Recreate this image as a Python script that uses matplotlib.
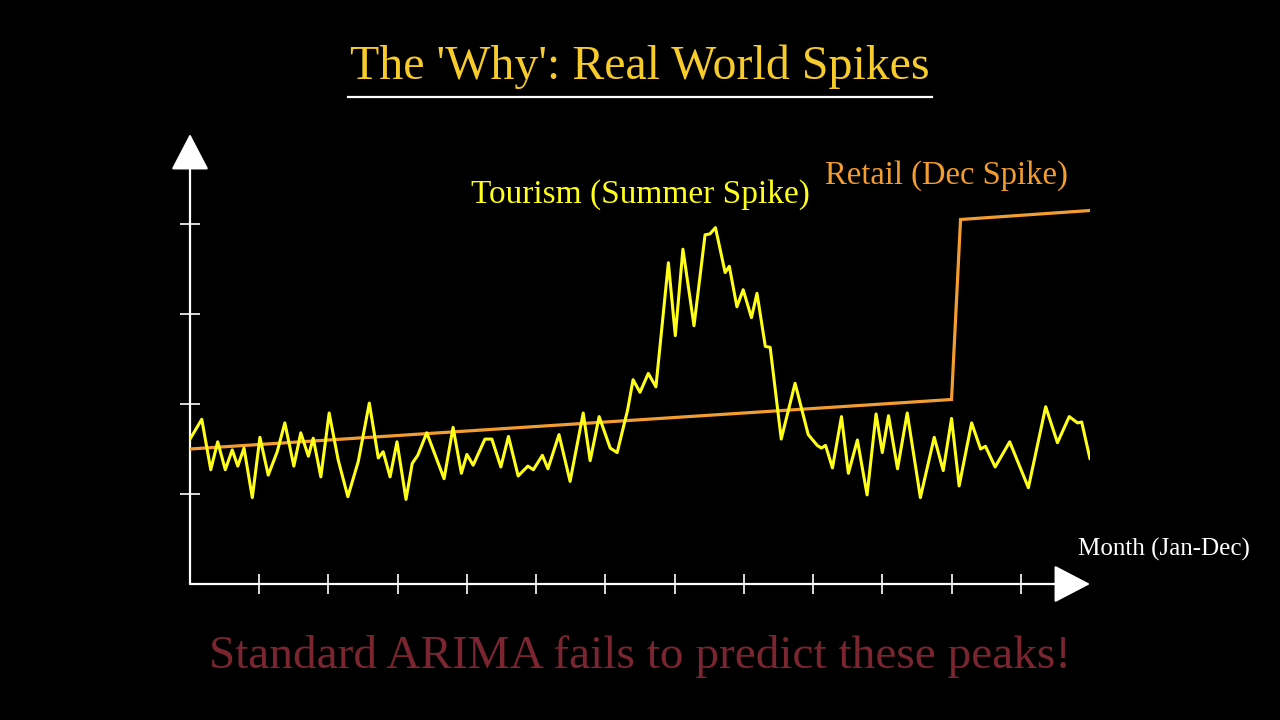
import matplotlib
matplotlib.use("Agg")
import matplotlib.pyplot as plt

# tourism (month position, level)
tour_x = [0.00, 0.17, 0.30, 0.40, 0.51, 0.61, 0.69, 0.78, 0.90, 1.01, 1.13, 1.26, 1.37, 1.50,
          1.60, 1.71, 1.78, 1.89, 2.01, 2.14, 2.28, 2.43, 2.59, 2.72, 2.79, 2.89, 2.99, 3.12,
          3.21, 3.29, 3.42, 3.67, 3.80, 3.92, 4.00, 4.09, 4.26, 4.36, 4.49, 4.60, 4.74, 4.88,
          4.96, 5.09, 5.17, 5.33, 5.49, 5.68, 5.78, 5.91, 6.07, 6.17, 6.32, 6.40, 6.50, 6.62,
          6.73, 6.91, 7.01, 7.12, 7.28, 7.44, 7.51, 7.59, 7.73, 7.79, 7.90, 7.99, 8.11, 8.19,
          8.31, 8.38, 8.54, 8.74, 8.93, 9.06, 9.12, 9.18, 9.28, 9.41, 9.51, 9.64, 9.78, 9.91,
          10.00, 10.09, 10.22, 10.36, 10.55, 10.75, 10.88, 11.00, 11.11, 11.29, 11.42, 11.49,
          11.63, 11.84, 12.11, 12.36, 12.53, 12.70, 12.82, 12.88, 13.00]
tour_y = [1.61, 1.83, 1.27, 1.58, 1.27, 1.49, 1.31, 1.51, 0.96, 1.63, 1.21, 1.47, 1.79, 1.31,
          1.68, 1.42, 1.62, 1.19, 1.90, 1.38, 0.97, 1.36, 2.01, 1.40, 1.47, 1.19, 1.58, 0.94,
          1.34, 1.43, 1.68, 1.17, 1.74, 1.23, 1.44, 1.32, 1.61, 1.61, 1.30, 1.64, 1.20, 1.31,
          1.27, 1.43, 1.28, 1.66, 1.14, 1.90, 1.37, 1.86, 1.51, 1.46, 1.93, 2.27, 2.13, 2.34,
          2.19, 3.57, 2.76, 3.72, 2.87, 3.88, 3.89, 3.96, 3.46, 3.53, 3.08, 3.27, 2.96, 3.23,
          2.64, 2.63, 1.61, 2.23, 1.66, 1.54, 1.51, 1.54, 1.29, 1.86, 1.23, 1.60, 0.99, 1.89,
          1.46, 1.87, 1.28, 1.90, 0.96, 1.63, 1.26, 1.84, 1.09, 1.79, 1.50, 1.53,
          1.30, 1.58, 1.07, 1.97, 1.57, 1.86, 1.79, 1.80, 1.39]

# retail: slow trend, then the December jump
retail_x = [0.0, 11.0, 11.13, 13.0]
retail_y = [1.50, 2.05, 4.05, 4.15]

x_ticks = list(range(1, 13))
y_ticks = [1, 2, 3, 4]

YELLOW = "#FFFF1A"
ORANGE = "#F39C30"
GOLD = "#F7CB2A"
SERIF = ["Liberation Serif", "DejaVu Serif"]

fig = plt.figure(figsize=(12.8, 7.2), dpi=100, facecolor="black")
ax = fig.add_axes([190 / 1280, 136 / 720, 900 / 1280, 450 / 720])
ax.set_facecolor("black")
ax.set_xlim(0, 13)
ax.set_ylim(0, 5)
for s in ax.spines.values():
    s.set_visible(False)

# axes with arrow heads
arrow = dict(arrowstyle="-|>,head_length=1.15,head_width=0.6", color="white",
             lw=1.6, mutation_scale=20, shrinkA=0, shrinkB=0)
ax.annotate("", xy=(13, 0), xytext=(0, 0), arrowprops=arrow, annotation_clip=False)
ax.annotate("", xy=(0, 5), xytext=(0, 0), arrowprops=arrow, annotation_clip=False)

ax.set_xticks(x_ticks)
ax.set_yticks(y_ticks)
ax.tick_params(direction="inout", length=15, width=1.2, color="white",
               labelbottom=False, labelleft=False)

ax.plot(retail_x, retail_y, color=ORANGE, lw=2.3, solid_joinstyle="miter", zorder=3)
ax.plot(tour_x, tour_y, color=YELLOW, lw=2.2, solid_joinstyle="round",
        solid_capstyle="round", zorder=4)

ax.text(6.5, 4.33, "Tourism (Summer Spike)", color=YELLOW, fontsize=24,
        family=SERIF, ha="center", va="center")
ax.text(10.92, 4.54, "Retail (Dec Spike)", color=ORANGE, fontsize=23.5,
        family=SERIF, ha="center", va="center")
ax.text(14.07, 0.38, "Month (Jan-Dec)", color="white", fontsize=18,
        family=SERIF, ha="center", va="center")

# title with underline
fig.text(0.5, 1 - 67 / 720, "The 'Why': Real World Spikes", color=GOLD, fontsize=34.5,
         family=SERIF, ha="center", va="center")
fig.add_artist(plt.Line2D([348 / 1280, 932 / 1280], [1 - 97 / 720] * 2,
                          color="white", lw=1.6))

fig.text(0.5, 1 - 657 / 720, "Standard ARIMA fails to predict these peaks!",
         color="#7A2530", fontsize=34, family=SERIF, ha="center", va="center")

fig.savefig("out.png", dpi=100, facecolor="black")
